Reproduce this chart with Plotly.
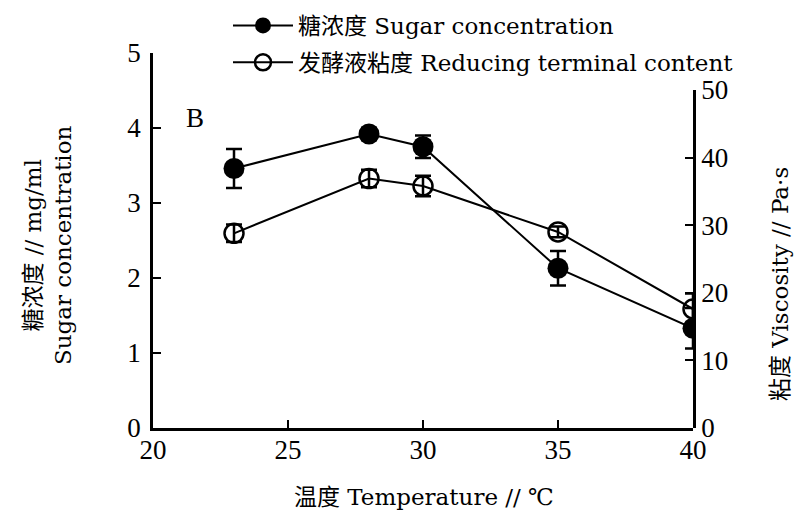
import plotly.graph_objects as go

temps = [23, 28, 30, 35, 40]
sugar = [3.46, 3.92, 3.75, 2.13, 1.33]
sugar_err = [0.26, 0.08, 0.15, 0.23, 0.27]
visc = [28.8, 36.9, 35.8, 29.0, 17.6]
visc_err = [1.3, 1.3, 1.5, 0.8, 2.3]

x_ticks = [20, 25, 30, 35, 40]
y1_ticks = [0, 1, 2, 3, 4, 5]
y2_ticks = [0, 10, 20, 30, 40, 50]

TICKFONT = "Liberation Serif, Noto Sans CJK SC, serif"
FONT = "DejaVu Serif, Noto Sans CJK SC, serif"
FS = 23

fig = go.Figure()
fig.add_trace(go.Scatter(
    x=temps, y=sugar, mode="lines+markers", name="糖浓度 Sugar concentration",
    legendgroup="a",
    line=dict(color="black", width=2),
    marker=dict(symbol="circle", size=21, color="black"),
    error_y=dict(type="data", array=sugar_err, color="black", thickness=2.5, width=8),
    xaxis="x", yaxis="y",
))
fig.add_trace(go.Scatter(
    x=temps, y=visc, mode="lines+markers", name="发酵液粘度 Reducing terminal content",
    legendgroup="b",
    line=dict(color="black", width=2),
    marker=dict(symbol="circle-open", size=19, color="black", line=dict(width=2.5, color="black")),
    error_y=dict(type="data", array=visc_err, color="black", thickness=2.5, width=8),
    xaxis="x", yaxis="y2",
))

axis_common = dict(
    showgrid=False, zeroline=False, showline=True, linecolor="black", linewidth=2.5,
    ticks="inside", ticklen=8, tickwidth=2, tickcolor="black",
    tickfont=dict(family=TICKFONT, size=27, color="black"),
    automargin=False,
)

W, H = 796, 506
L, T = 145, 45
PW, PH = 540, 375

def px(x):
    return (x - 8 - L) / PW

def py(y):
    return (T + PH - (y - 8)) / PH

fig.update_layout(
    width=W, height=H,
    margin=dict(l=L, r=W - L - PW, t=T, b=H - T - PH, autoexpand=False),
    paper_bgcolor="white", plot_bgcolor="rgba(0,0,0,0)",
    font=dict(family=FONT, size=FS, color="black"),
    xaxis=dict(range=[20, 40], tickvals=x_ticks, ticklabelstandoff=-4, **axis_common),
    yaxis=dict(range=[0, 5], tickvals=y1_ticks, ticklabelstandoff=4, **axis_common),
    yaxis2=dict(range=[0, 50], tickvals=y2_ticks, domain=[0, 338 / 375], anchor="x",
                side="right", **axis_common),
    showlegend=True,
    legend=dict(x=px(228), y=py(4), xanchor="left", yanchor="top",
                bgcolor="rgba(0,0,0,0)", traceorder="grouped",
                font=dict(family=FONT, size=FS, color="black"), itemwidth=60,
                tracegroupgap=4),
    annotations=[
        dict(text="B", xref="paper", yref="paper", x=px(195), y=py(118),
             xanchor="center", yanchor="middle",
             showarrow=False, font=dict(family=TICKFONT, size=27)),
        dict(text="温度 Temperature // ℃", xref="paper", yref="paper", x=px(424),
             y=py(497), xanchor="center", yanchor="middle",
             showarrow=False, font=dict(family=FONT, size=FS)),
        dict(text="糖浓度 // mg/ml<br>Sugar concentration", xref="paper", yref="paper",
             x=px(48), y=py(245), xanchor="center", yanchor="middle",
             textangle=-90, showarrow=False,
             font=dict(family=FONT, size=FS)),
        dict(text="粘度 Viscosity // Pa·s", xref="paper", yref="paper",
             x=px(780), y=py(284), xanchor="center", yanchor="middle",
             textangle=-90, showarrow=False,
             font=dict(family=FONT, size=FS)),
    ],
)

fig.write_html("out.html")
